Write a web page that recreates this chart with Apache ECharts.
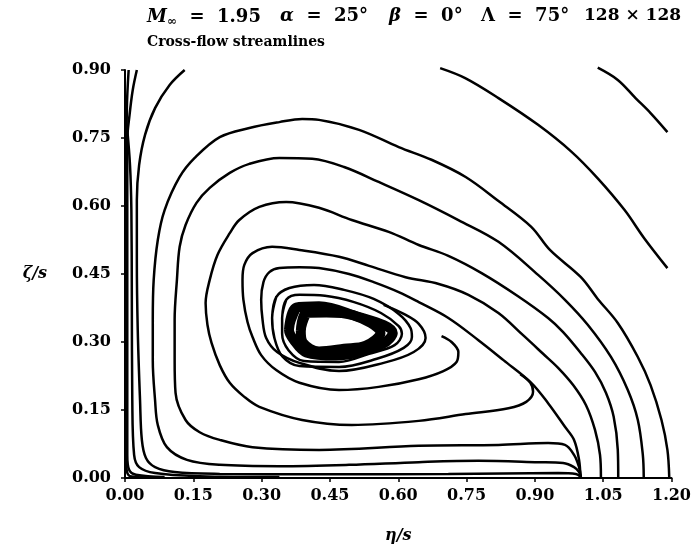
<!DOCTYPE html>
<html>
<head>
<meta charset="utf-8">
<script src="https://cdn.jsdelivr.net/npm/echarts@6/dist/echarts.min.js"></script>
<style>html,body{margin:0;padding:0;background:#fff}#c{width:694px;height:555px}</style>
</head>
<body>
<div id="c"></div>
<script>
// ---- tick labels ----
const xTickLabels = ['0.00','0.15','0.30','0.45','0.60','0.75','0.90','1.05','1.20'];
const yTickLabels = ['0.00','0.15','0.30','0.45','0.60','0.75','0.90'];
// ---- title pieces ----
const titleParts = ['{i|M}{s|∞}  =  1.95', '{i|α}  =  25°', '{i|β}  =  0°', 'Λ  =  75°', '128 × 128'];
const subtitle = 'Cross-flow streamlines';

// ---- streamlines (η/s, ζ/s) ----
const arcA1 = [[1.038,0.905],[1.082,0.878],[1.121,0.838],[1.154,0.805],[1.191,0.763]];
const arcA2 = [[0.692,0.904],[0.747,0.882],[0.820,0.838],[0.907,0.779],[0.980,0.720],[1.038,0.661],[1.097,0.591],[1.140,0.529],[1.191,0.463]];
const lineE1 = [[1.195,0.002],[1.191,0.062],[1.178,0.128],[1.154,0.205],[1.126,0.267],[1.082,0.342],[1.038,0.395],[1.001,0.443],[0.933,0.503],[0.892,0.554],[0.820,0.611],[0.748,0.664],[0.673,0.702],[0.601,0.730],[0.514,0.768],[0.426,0.790],[0.389,0.792],[0.339,0.785],[0.273,0.772],[0.208,0.752],[0.153,0.706],[0.120,0.664],[0.087,0.591],[0.072,0.525],[0.063,0.437],[0.061,0.349],[0.061,0.260],[0.066,0.172],[0.072,0.117],[0.092,0.068],[0.136,0.040],[0.208,0.029],[0.339,0.026],[0.492,0.029],[0.645,0.035],[0.776,0.038],[0.907,0.035],[0.962,0.033],[0.986,0.024],[0.997,0.013],[1.001,0.002]];
const lineE2 = [[1.139,0.002],[1.137,0.051],[1.126,0.128],[1.104,0.194],[1.067,0.267],[1.016,0.338],[0.966,0.393],[0.907,0.448],[0.820,0.521],[0.732,0.569],[0.645,0.613],[0.557,0.653],[0.481,0.686],[0.411,0.704],[0.339,0.706],[0.273,0.693],[0.230,0.673],[0.186,0.640],[0.157,0.607],[0.133,0.558],[0.120,0.510],[0.114,0.437],[0.109,0.349],[0.109,0.260],[0.111,0.188],[0.133,0.128],[0.164,0.101],[0.208,0.084],[0.280,0.068],[0.426,0.062],[0.645,0.071],[0.820,0.073],[0.929,0.077],[0.966,0.073],[0.986,0.051],[0.997,0.024],[1.001,0.002]];
const lineE3 = [[1.083,0.002],[1.082,0.062],[1.073,0.135],[1.056,0.188],[1.032,0.234],[0.999,0.278],[0.962,0.322],[0.929,0.353],[0.863,0.401],[0.783,0.452],[0.710,0.490],[0.645,0.514],[0.579,0.543],[0.498,0.569],[0.426,0.596],[0.354,0.609],[0.295,0.598],[0.251,0.569],[0.230,0.540],[0.203,0.492],[0.186,0.437],[0.177,0.386],[0.181,0.338],[0.190,0.298],[0.208,0.249],[0.230,0.210],[0.262,0.179],[0.295,0.157],[0.389,0.128],[0.498,0.117],[0.645,0.126],[0.748,0.141],[0.842,0.154],[0.881,0.168],[0.896,0.190],[0.890,0.210],[0.868,0.229]];
const lineE4 = [[1.045,0.002],[1.043,0.051],[1.032,0.106],[1.012,0.161],[0.984,0.205],[0.951,0.243],[0.918,0.274],[0.874,0.315],[0.820,0.364],[0.754,0.404],[0.689,0.428],[0.616,0.443],[0.536,0.468],[0.470,0.488],[0.383,0.503],[0.323,0.510],[0.280,0.496],[0.262,0.470],[0.258,0.437],[0.260,0.393],[0.269,0.344],[0.280,0.311],[0.299,0.271],[0.332,0.238],[0.383,0.210],[0.470,0.194],[0.557,0.201],[0.645,0.218],[0.699,0.236],[0.728,0.256],[0.732,0.278],[0.717,0.300],[0.695,0.313]];
const lineE5 = [[1.000,0.002],[0.997,0.040],[0.986,0.084],[0.966,0.113],[0.929,0.165],[0.892,0.210],[0.831,0.260],[0.776,0.304],[0.710,0.353],[0.645,0.388],[0.601,0.410],[0.546,0.432],[0.492,0.450],[0.426,0.463],[0.383,0.465],[0.339,0.463],[0.317,0.454],[0.304,0.432],[0.299,0.393],[0.302,0.349],[0.310,0.309],[0.334,0.278],[0.383,0.254],[0.470,0.236],[0.568,0.254],[0.634,0.278],[0.660,0.309],[0.645,0.340],[0.612,0.362],[0.568,0.382]];
const loopQ2 = [[0.323,0.353],[0.332,0.399],[0.361,0.419],[0.415,0.426],[0.481,0.415],[0.546,0.395],[0.601,0.362],[0.627,0.331],[0.630,0.311],[0.612,0.287],[0.553,0.263],[0.470,0.245],[0.383,0.247],[0.345,0.269],[0.328,0.309],[0.323,0.353],[0.332,0.399]];
const loopQ1 = [[0.345,0.353],[0.354,0.393],[0.383,0.404],[0.439,0.402],[0.503,0.388],[0.562,0.364],[0.601,0.335],[0.608,0.318],[0.592,0.293],[0.536,0.274],[0.470,0.256],[0.393,0.258],[0.359,0.282],[0.345,0.318],[0.345,0.353],[0.354,0.393]];
const coreOuter = [[0.360,0.327],[0.376,0.376],[0.426,0.379],[0.496,0.361],[0.588,0.320],[0.566,0.296],[0.463,0.270],[0.398,0.277],[0.371,0.304],[0.360,0.327],[0.376,0.376]];
const coreInner = [[0.386,0.324],[0.398,0.364],[0.442,0.365],[0.501,0.359],[0.561,0.320],[0.529,0.292],[0.481,0.285],[0.426,0.279],[0.391,0.298],[0.386,0.324],[0.398,0.364]];
const lineC1 = [[0.131,0.900],[0.098,0.867],[0.066,0.816],[0.044,0.757],[0.031,0.690],[0.026,0.613],[0.026,0.481],[0.028,0.326],[0.033,0.172],[0.037,0.084],[0.046,0.044],[0.066,0.024],[0.109,0.013],[0.208,0.009],[0.426,0.008],[0.710,0.009],[0.951,0.011],[0.990,0.009],[1.001,0.002]];
const wallW1 = [[0.026,0.900],[0.017,0.856],[0.010,0.801],[0.005,0.746],[0.005,0.393],[0.005,0.051],[0.009,0.018],[0.024,0.007],[0.087,0.002]];
const wallW2 = [[0.008,0.900],[0.004,0.812],[0.003,0.613],[0.003,0.029],[0.011,0.004],[0.055,0.001]];
const wallW3 = [[0.005,0.768],[0.011,0.690],[0.014,0.591],[0.015,0.393],[0.016,0.172],[0.020,0.051],[0.031,0.024],[0.066,0.011],[0.164,0.004],[0.339,0.002]];

const thinLines = [arcA1, arcA2, lineE1, lineE2, lineE3, lineE4, lineE5, loopQ2, loopQ1, lineC1, wallW1, wallW2, wallW3];
const thickLines = [coreOuter, coreInner];

const FONT = 'DejaVu Serif';
const series = [];
thinLines.forEach(d => series.push({
  type: 'line', data: d, showSymbol: false, smooth: 0.35, clip: false,
  lineStyle: { color: '#000', width: 2.5 }, silent: true
}));
thickLines.forEach(d => series.push({
  type: 'line', data: d, showSymbol: false, smooth: 0.35, clip: false,
  lineStyle: { color: '#000', width: 10, join: 'round' }, silent: true
}));

function titleStyle(size) {
  return {
    fontFamily: FONT, fontWeight: 'bold', fontSize: size, color: '#000',
    rich: {
      i: { fontFamily: FONT, fontWeight: 'bold', fontStyle: 'italic', fontSize: size, color: '#000' },
      s: { fontFamily: FONT, fontWeight: 'bold', fontSize: 12, color: '#000', padding: [9, 0, 0, 0] }
    }
  };
}
const titleLefts = [142, 275, 384, 476, 579];
const titleSizes = [18, 18, 18, 18, 17];
const titles = titleParts.map((t, k) => ({ text: t, left: titleLefts[k], top: 2, textStyle: titleStyle(titleSizes[k]) }));
titles.push({ text: subtitle, left: 142, top: 30,
  textStyle: { fontFamily: FONT, fontWeight: 'bold', fontSize: 14, color: '#000' } });

const chart = echarts.init(document.getElementById('c'));
chart.setOption({
  animation: false,
  backgroundColor: '#fff',
  title: titles,
  grid: { left: 125, right: 20, top: 70, bottom: 77 },
  xAxis: {
    type: 'value', min: 0, max: 1.2, interval: 0.15,
    name: 'η/s', nameLocation: 'middle', nameGap: 50,
    nameTextStyle: { fontFamily: FONT, fontWeight: 'bold', fontStyle: 'italic', fontSize: 16, color: '#000' },
    axisLine: { lineStyle: { color: '#000', width: 2 } },
    axisTick: { length: 4, lineStyle: { color: '#000', width: 1.5 } },
    splitLine: { show: false },
    axisLabel: { margin: 10, fontFamily: FONT, fontWeight: 'bold', fontSize: 16, color: '#000',
      formatter: v => xTickLabels[Math.round(v / 0.15)] }
  },
  yAxis: {
    type: 'value', min: 0, max: 0.9, interval: 0.15,
    name: 'ζ/s', nameLocation: 'middle', nameGap: 78, nameRotate: 0,
    nameTextStyle: { fontFamily: FONT, fontWeight: 'bold', fontStyle: 'italic', fontSize: 16, color: '#000' },
    axisLine: { show: true, lineStyle: { color: '#000', width: 2 } },
    axisTick: { show: true, length: 4, lineStyle: { color: '#000', width: 1.5 } },
    splitLine: { show: false },
    axisLabel: { margin: 14, fontFamily: FONT, fontWeight: 'bold', fontSize: 16, color: '#000',
      formatter: v => yTickLabels[Math.round(v / 0.15)] }
  },
  series: series
});
</script>
</body>
</html>
